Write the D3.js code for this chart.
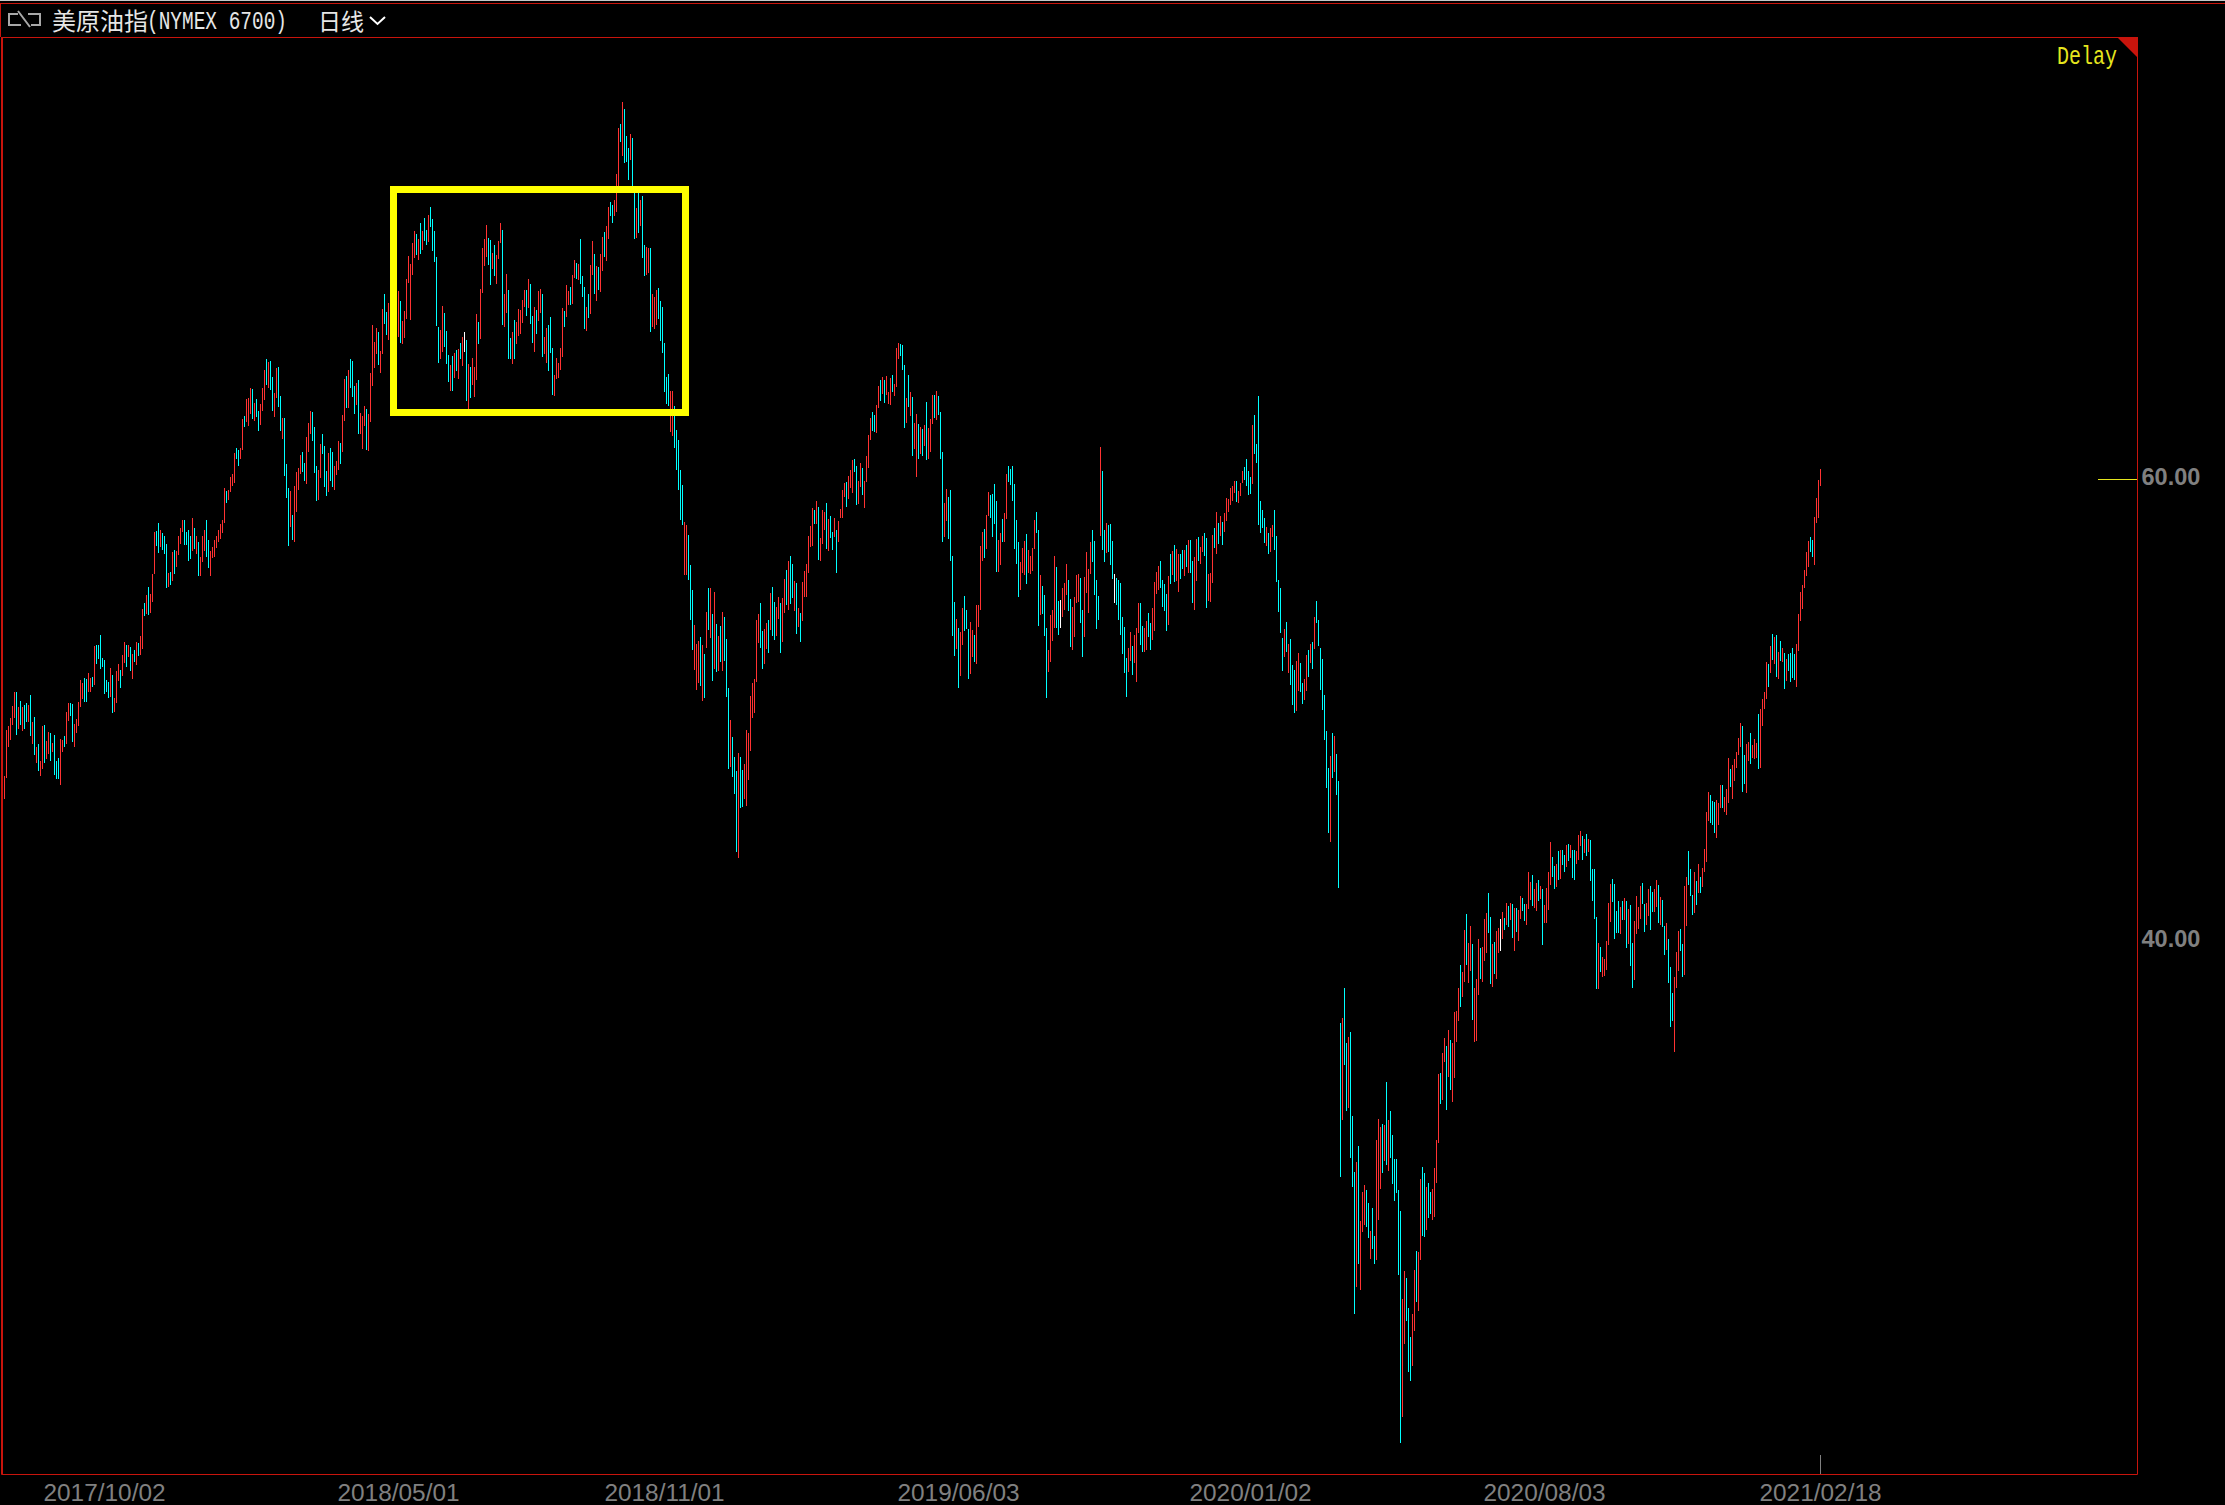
<!DOCTYPE html>
<html>
<head>
<meta charset="utf-8">
<title>美原油指</title>
<script src="https://cdn.jsdelivr.net/npm/d3@7"></script>
<style>
  html, body { margin: 0; padding: 0; background: #000; overflow: hidden; }
  svg { display: block; }
</style>
</head>
<body>
<div id="chart"></div>
<script>
// Daily highs, one line per 25 sessions.
const highs = [
47.09,49.09,49.26,49.61,50.13,50.74,50.74,50.09,50.35,50.09,50.17,50.26,50.17,50.61,49.43,49.65,48.35,48.48,47.74,49.26,49.30,48.61,49.00,48.96,48.52,
48.87,47.74,47.87,48.70,48.65,48.83,49.87,50.26,50.26,50.22,49.35,49.57,50.30,51.26,51.13,51.35,51.30,51.57,51.35,51.39,52.74,52.78,52.78,53.22,52.22,
52.13,51.26,51.17,51.78,51.48,50.48,51.65,51.96,51.70,52.35,52.91,52.78,52.78,52.70,52.39,52.57,52.91,52.87,53.17,54.35,54.61,54.96,55.30,55.00,55.87,
57.70,57.74,58.09,57.78,57.65,57.52,57.17,55.91,55.96,56.83,56.91,56.87,57.52,57.87,58.22,58.22,57.70,57.78,57.52,58.30,57.87,57.52,57.26,56.61,57.52,
57.78,58.22,57.35,56.87,57.04,57.35,57.52,57.78,58.04,58.22,59.61,59.48,59.52,60.09,60.22,61.13,61.35,61.26,61.35,62.61,62.74,63.48,63.52,63.96,63.91,
63.30,63.48,62.96,63.26,63.96,64.74,65.22,65.09,65.13,64.43,63.74,64.83,64.87,63.61,62.65,62.65,60.65,59.61,59.48,58.43,59.70,60.30,60.48,61.04,61.17,
60.70,61.83,62.43,62.96,62.91,62.26,60.57,60.39,61.52,61.96,61.43,60.35,61.13,61.35,61.17,60.57,60.78,61.65,61.57,62.78,64.35,64.48,64.74,65.22,65.13,
64.04,64.17,64.30,62.87,62.74,63.17,63.04,62.83,64.61,66.70,65.96,66.57,66.39,65.57,67.39,68.04,67.26,67.65,67.78,68.22,68.43,68.22,68.17,67.74,66.87,
67.30,68.70,69.70,69.35,70.26,70.78,70.65,70.43,71.13,70.78,71.35,70.83,71.48,71.83,71.30,70.78,69.65,66.61,66.48,67.52,67.22,66.43,65.39,64.96,65.35,
65.48,65.61,65.65,65.91,66.17,66.39,66.04,65.00,64.87,65.26,64.87,67.17,66.83,68.26,70.04,70.43,71.04,70.48,70.39,69.83,70.17,69.74,70.35,71.13,70.83,
68.04,68.91,68.22,66.13,66.39,66.91,66.83,67.39,67.35,67.78,68.22,68.22,68.70,68.48,67.09,67.48,67.35,68.17,68.26,68.04,66.17,66.57,66.70,67.04,65.70,
64.52,65.26,65.04,65.70,67.43,67.30,68.43,68.17,68.35,68.87,69.52,69.39,69.35,70.43,68.83,68.35,67.48,68.04,69.30,70.35,69.78,69.26,69.22,69.78,70.52,
70.74,71.00,71.83,72.04,71.91,72.13,73.26,75.26,75.43,76.39,76.09,74.91,74.39,75.00,74.83,72.61,71.78,72.65,72.13,72.30,70.17,70.09,70.04,70.04,68.04,
67.91,68.22,68.30,67.74,67.48,65.91,64.43,64.57,63.83,63.83,63.17,62.13,61.70,60.39,59.74,58.13,58.00,57.57,56.26,55.17,53.65,52.83,52.96,53.13,52.78,
52.40,54.23,55.28,55.28,54.13,55.10,53.70,53.18,53.62,54.23,54.00,53.05,50.92,49.52,48.79,47.91,47.31,48.09,47.91,47.34,47.61,49.09,48.94,50.57,51.14,
51.30,53.87,54.13,54.62,53.40,53.50,53.75,53.87,55.05,55.31,54.67,54.42,54.88,54.62,54.83,55.66,56.05,56.45,56.66,56.31,55.56,55.48,54.40,54.18,55.53,
56.01,56.31,57.53,57.96,58.74,58.66,59.04,58.79,57.44,58.66,58.58,58.96,58.26,58.39,57.69,58.31,57.79,58.18,58.71,59.52,59.82,59.87,60.14,60.39,60.84,
60.87,60.57,59.92,60.71,60.49,59.92,61.01,61.92,62.65,62.92,62.79,63.22,64.05,64.32,64.45,64.32,64.48,63.78,64.40,64.53,64.13,65.70,65.91,65.88,65.83,
64.97,63.53,64.53,63.78,63.57,62.44,62.84,62.40,62.27,62.19,62.35,63.35,62.22,62.62,63.65,63.65,63.82,63.62,62.92,61.19,58.96,59.57,59.23,59.52,56.66,
54.67,53.92,53.53,53.35,54.40,54.92,54.32,53.48,53.78,53.43,53.23,54.53,54.53,57.10,57.69,57.83,58.44,59.44,59.31,59.36,59.79,59.04,57.36,57.66,58.26,
58.52,60.22,60.57,60.43,60.57,59.78,58.22,57.26,56.39,57.00,57.30,57.61,56.91,56.65,57.00,58.22,58.57,57.78,55.83,55.35,54.96,53.52,52.57,54.09,54.30,
56.65,56.17,54.70,54.74,55.26,55.48,56.30,55.61,54.78,54.43,54.87,55.83,55.87,55.70,54.30,55.74,56.83,56.09,57.26,57.78,57.30,55.61,54.91,61.39,60.35,
57.78,58.09,58.00,58.04,57.30,55.87,55.70,55.61,55.48,54.00,53.57,52.22,52.65,53.35,52.74,53.22,53.52,54.61,54.61,53.61,53.52,53.83,54.17,53.74,54.39,
55.52,55.96,56.22,56.43,55.61,55.43,55.00,55.78,56.74,56.87,57.13,56.96,56.74,56.74,56.91,56.91,57.13,57.35,57.35,56.43,56.61,57.39,57.48,57.04,57.52,
57.65,57.43,55.87,55.91,57.57,57.87,58.57,58.09,58.39,58.13,58.52,59.17,59.13,59.61,59.70,59.91,59.91,59.48,59.83,60.35,60.52,60.87,60.35,60.09,62.35,
62.78,61.52,63.61,59.04,58.65,58.30,57.91,57.65,57.87,58.00,58.65,57.52,55.61,55.26,53.09,53.48,53.78,52.83,53.04,51.91,51.70,52.09,52.43,52.00,51.13,
51.30,52.35,52.57,52.83,52.91,54.00,54.70,53.87,52.65,52.17,50.61,49.04,47.43,47.96,48.96,48.83,48.04,46.87,36.35,36.57,37.87,35.48,35.74,35.96,32.30,
29.87,30.30,31.00,27.74,29.00,29.30,29.09,28.52,27.30,28.30,27.09,31.26,32.17,31.83,31.96,31.91,33.78,32.13,32.52,31.48,30.43,30.43,29.09,28.17,24.35,
25.57,25.26,23.96,22.70,23.70,25.61,26.43,26.39,29.57,30.09,29.83,29.22,29.39,29.00,29.13,30.04,31.26,34.13,34.17,35.04,35.70,35.35,36.04,35.61,35.48,
36.83,36.87,37.87,38.87,38.57,40.39,41.09,39.83,40.57,39.78,37.87,38.26,40.00,39.61,39.65,40.87,41.13,42.00,40.96,39.78,39.87,40.35,40.48,40.87,41.17,
40.91,41.57,41.43,41.57,41.52,41.35,41.35,41.26,41.87,41.78,41.52,41.52,42.91,42.48,42.78,42.17,42.43,42.57,42.30,42.17,41.48,42.22,42.91,44.22,43.57,
43.17,43.26,43.83,43.87,43.87,43.65,44.09,44.13,44.09,43.87,43.87,43.83,44.52,44.70,44.48,44.35,44.57,44.35,44.30,43.04,43.04,40.96,39.83,39.65,39.22,
39.13,39.91,41.57,42.39,42.61,42.39,41.22,41.65,41.39,41.65,41.78,41.65,41.30,41.48,39.83,40.78,41.87,41.39,42.30,42.43,41.52,41.57,42.17,42.30,42.04,
42.17,42.57,42.35,41.83,41.70,40.57,40.70,40.00,38.78,37.65,38.35,39.43,40.35,40.43,39.78,42.30,42.70,43.83,43.04,41.91,42.91,42.52,43.26,42.70,43.09,
43.91,45.52,46.39,46.26,46.00,45.96,46.04,45.91,46.70,46.70,46.17,46.52,47.87,47.39,47.57,47.83,48.13,48.74,49.39,49.26,48.00,48.48,48.57,48.96,48.43,
48.70,48.52,49.78,50.00,50.43,50.74,52.04,51.96,52.74,53.26,53.13,53.22,52.48,52.96,52.65,52.43,52.17,52.39,52.43,52.65,52.39,52.83,54.13,55.09,55.39,
56.04,56.83,57.30,57.48,57.35,58.35,59.17,59.96,60.43
];

// Daily lows, same order.
const lows = [
46.09,47.00,48.35,48.65,49.30,49.61,48.87,49.13,49.30,49.04,49.13,49.43,49.43,48.83,48.48,48.00,47.65,47.30,47.09,47.39,47.65,47.83,48.04,47.74,48.13,
47.13,46.96,46.96,46.70,48.13,48.35,48.48,49.48,49.70,48.57,48.35,48.96,49.26,50.09,50.43,50.30,50.30,50.74,50.74,50.96,51.04,51.96,52.17,51.74,51.83,
50.65,50.74,50.48,50.52,49.83,49.87,50.26,51.22,50.91,51.43,52.00,51.83,52.26,51.65,51.30,52.04,51.91,52.30,52.35,52.61,54.04,54.13,54.09,54.17,54.65,
55.87,57.09,56.78,57.04,56.91,56.74,55.26,55.30,55.39,55.57,55.87,56.17,56.70,57.17,57.70,57.13,57.13,56.43,56.52,56.87,56.96,56.74,55.78,55.78,56.39,
56.87,56.61,56.13,55.78,56.57,56.61,57.00,57.26,57.39,57.65,58.09,58.96,59.09,59.43,59.70,59.83,60.87,60.57,60.87,61.26,62.26,62.48,62.30,62.83,62.61,
62.52,62.70,62.09,62.35,62.96,63.43,64.09,63.96,63.87,62.96,62.70,63.52,63.13,62.09,61.74,60.13,59.17,57.09,57.91,57.35,57.26,58.57,59.52,60.22,60.30,
59.91,59.78,61.17,61.96,61.65,60.26,59.04,59.09,60.04,61.09,59.65,59.26,59.43,59.91,59.65,59.52,60.17,60.39,60.65,61.17,62.52,63.09,63.09,63.96,63.57,
62.83,63.22,61.96,61.96,61.30,62.30,61.26,61.22,62.48,64.04,64.83,65.43,64.96,64.61,65.43,66.74,66.26,66.04,66.26,66.91,66.70,66.48,66.17,65.91,65.87,
66.13,66.96,68.52,66.91,68.87,69.61,69.74,69.52,69.78,69.96,70.35,70.17,70.30,70.96,69.91,69.43,66.65,65.04,65.22,65.52,65.74,65.00,64.22,63.83,63.83,
64.39,64.70,64.35,65.22,64.91,65.52,63.39,62.91,63.52,64.09,63.57,64.30,65.87,66.09,68.09,69.26,69.65,69.30,68.43,69.13,68.83,68.48,69.57,70.26,66.70,
66.61,67.22,65.22,65.22,65.00,65.22,65.87,66.22,66.30,66.78,67.48,67.09,67.43,66.74,65.91,65.52,66.30,66.87,67.22,65.30,65.43,65.04,64.70,65.48,63.65,
63.61,64.35,64.39,64.74,65.30,66.61,67.04,67.57,67.57,67.61,68.74,68.70,68.65,68.48,67.91,66.52,66.43,67.00,67.17,68.87,68.04,67.74,68.22,68.13,69.04,
69.65,69.48,70.43,71.43,71.13,71.43,71.61,72.57,74.65,74.04,73.74,73.78,73.00,73.87,72.65,70.43,70.48,70.70,71.00,69.61,68.83,68.87,68.96,66.39,66.61,
66.52,66.70,66.96,66.00,65.48,63.78,63.26,63.17,62.04,61.87,61.35,60.39,59.52,58.22,58.00,55.83,55.83,55.61,53.87,52.57,51.70,50.83,51.13,51.00,50.35,
50.49,52.64,53.43,53.08,51.22,51.74,51.59,51.64,52.04,51.64,52.09,50.52,47.39,47.48,47.04,46.31,43.78,43.52,45.70,45.75,46.10,45.78,46.91,48.18,49.61,
49.84,51.19,52.87,52.65,51.74,51.95,52.60,52.44,53.43,53.18,53.00,53.18,53.93,52.44,52.92,54.18,54.53,54.32,54.55,54.83,54.25,53.27,53.57,52.92,53.83,
54.88,54.88,55.91,57.05,57.10,58.04,58.04,56.48,56.45,57.18,57.79,56.96,56.88,57.44,56.91,57.49,55.91,57.26,58.31,58.31,59.23,58.79,59.14,59.61,59.39,
60.31,58.88,58.93,59.66,59.29,58.74,59.89,60.49,61.70,62.10,62.05,62.00,63.09,63.40,63.70,63.32,63.65,63.25,63.22,63.78,63.62,64.00,65.23,65.35,64.75,
62.22,62.44,63.14,62.75,61.01,61.31,60.09,60.87,61.07,61.01,61.44,60.84,60.87,61.19,62.40,62.65,62.57,62.77,60.87,57.26,57.48,58.18,57.39,56.45,53.18,
52.30,52.62,50.92,51.44,52.79,53.40,53.48,51.30,51.52,52.27,52.05,51.95,53.57,54.32,56.45,56.56,56.96,58.39,58.31,57.48,58.04,55.96,55.96,56.26,57.26,
57.26,58.26,59.87,59.74,59.04,56.96,56.30,54.87,55.17,55.91,55.83,55.43,55.91,55.87,56.00,56.96,57.65,53.61,54.09,54.13,53.17,50.48,51.61,52.04,52.96,
53.52,53.52,53.22,53.52,54.00,54.30,54.96,54.26,52.70,52.57,53.13,54.61,54.65,53.74,52.26,53.13,55.04,54.17,55.87,56.39,54.96,53.48,53.87,57.52,56.91,
56.39,56.78,56.83,56.26,55.65,54.61,54.52,53.87,53.22,52.39,51.57,50.52,51.61,52.09,51.48,52.00,51.17,53.30,52.78,52.48,52.48,52.57,53.13,52.57,53.00,
53.39,55.00,55.17,55.26,54.43,54.26,53.39,53.65,55.43,55.83,55.52,55.57,55.09,55.65,56.09,55.78,56.17,55.91,55.91,54.61,54.30,55.57,56.43,56.30,56.83,
56.65,54.39,54.70,54.65,55.48,57.00,56.74,57.17,57.52,57.13,57.70,58.17,58.57,58.87,59.04,59.39,59.00,58.96,59.26,59.83,59.96,59.70,59.30,59.35,59.78,
61.09,60.70,58.00,57.65,57.87,57.22,57.09,56.74,56.83,57.48,56.91,55.52,54.22,53.30,51.65,52.26,52.48,51.57,51.04,50.17,49.83,49.91,50.78,50.74,50.22,
50.39,50.78,51.39,52.00,51.74,52.61,53.74,52.74,50.83,49.96,48.65,46.57,44.61,44.22,47.00,47.26,46.26,42.22,29.65,32.13,34.52,32.52,32.65,30.48,29.22,
23.70,24.87,25.87,24.74,27.26,27.57,27.48,27.00,26.09,26.52,25.87,26.04,27.78,29.13,29.83,30.35,30.17,29.91,30.48,29.35,28.61,28.96,25.39,18.09,19.22,
22.39,23.39,21.17,20.78,21.43,22.96,24.22,23.83,26.04,27.09,27.04,27.35,27.87,28.04,27.78,27.91,29.39,31.13,32.83,33.00,34.65,32.57,34.00,33.43,32.91,
33.96,35.52,36.43,37.04,37.48,38.13,38.87,38.09,38.61,36.48,35.52,35.57,37.57,38.26,38.13,39.04,39.39,40.26,38.04,37.91,38.48,38.26,39.39,39.48,40.00,
40.39,40.61,40.52,40.83,40.04,39.48,40.30,39.91,40.87,41.22,40.78,40.61,41.30,41.70,41.43,41.35,41.22,41.65,41.74,39.74,40.70,40.70,41.26,42.35,42.70,
42.17,42.26,42.57,42.61,43.22,42.91,43.13,43.39,43.52,42.65,42.57,43.26,43.43,44.04,43.43,43.74,43.61,43.78,42.52,41.65,40.87,37.83,37.83,38.57,38.35,
38.39,38.65,39.74,40.74,41.61,40.00,40.26,40.26,40.22,40.83,40.83,39.61,39.78,38.83,37.87,38.22,40.22,40.43,40.87,41.52,40.30,40.61,41.00,40.39,41.17,
41.17,41.39,40.70,40.61,40.52,39.30,39.52,38.09,36.17,36.43,35.09,37.87,38.61,39.48,38.35,38.43,40.57,42.35,41.87,41.04,41.13,41.48,42.00,42.00,42.26,
42.91,43.35,45.13,45.04,44.96,44.61,44.39,44.96,45.70,45.70,45.52,45.39,45.91,46.61,46.09,46.87,47.43,48.00,48.35,46.39,46.74,46.35,47.74,47.61,47.87,
47.83,47.87,47.39,47.43,49.26,50.00,50.43,50.96,51.57,52.13,51.96,51.39,51.30,52.09,52.04,50.87,51.22,51.65,51.17,51.35,51.26,50.96,52.52,53.83,54.35,
55.26,55.78,56.17,56.83,56.61,56.26,58.09,58.30,59.70
];

// R = closed up, C = closed down, W = closed flat.
const directions = [
'RRRRRRCRCRCCRCRCRCRRCRRCR',
'CCCRRCRRCCRRRRRCCRRCRCCCC',
'CCCRCRRRCRRCRCRCRCRRCRCRR',
'RCCRCCCRCRCRRRRCCCCRCRCRR',
'RCCRRRRRRRRCRRRRCCRRCRRRC',
'RCCRRRCRCCRRCCRCCCRCRRRRC',
'CRRRCCCRRCCCRCCRRRCRRCRCC',
'CRCRRRCRRRRRCRRCCRRRCRRCR',
'RRRRRRCRCRCCRCCCCCRRCCCRC',
'RCRCRWCRCRRRCRRRRCCRCRRRC',
'RRCCRCRRRRRCRCCRCRRCRRCCC',
'RRRRRCRRCRRCRCCCRCRRCRCRR',
'CRRCCRRRCRCCCRCCRCRCCRRCR',
'RRCCCCCCRRCCCCCRRCCCRRRCR',
'CRCRCRCRCRCCCRCCCRCCRRRRR',
'RRRCCRRCRCCRRCRRCRCCRCRCR',
'RRRRRCRCRRRCRCCRCRRRRCRRR',
'CCRRCRRRRCCRRCRCRRRCRRRCC',
'CRCRCRRCRCRCRRRCRCCCRRCCC',
'CRCRRCCCRRCRRRRCRRCCCCRRC',
'RRCCCCCCRRRCRRRRCCRCCCRRR',
'RCCWRRRCCRRRRCCRRRRCCCCRC',
'CRCCCWCCCCCCRRCRRRCCRRCCR',
'RRRCCCCRCRCRRCCRCRCCRRCRR',
'CCRRRCRCRCRRRRRRCRRRCCCCR',
'CCCCCCRCRRCCCCCRCRCCCRRCC',
'RRCRCRCCCCCCCRCRCCCRCCRCC',
'CRCRRRCCRCCRRRCRCRCCCCCCR',
'RCCCRRCRRCCRCCRRRRCRRCRCR',
'RRRCRRCRRCRRRCRRRCCRCRRWR',
'CRCRCRCRRCCRRRCRRCRCRRRRC',
'CRCRCCRCRCCRRRCRCRCCCCRCR',
'RRRRCCCCRCRCRCCRRRRCCRRCC',
'RRCRCCRCCCRRRCCRRCCCRCRCR',
'RRRCCCRRRCRRRCRRRRRCCRRCR',
'RRCRRRRCRCRCRCRCRCCCCRRRR',
'RRRCCRRRR'
].join('').split('');

// Tick labels and the sessions they sit on.
const dateLabels = ['2017/10/02', '2018/05/01', '2018/11/01', '2019/06/03', '2020/01/02', '2020/08/03', '2021/02/18'];
const dateSessions = [50, 197, 330, 477, 623, 770, 908];
const priceTicks = [60, 40];

const WIDTH = 2225;
const HEIGHT = 1505;
const FRAME = { left: 1.5, top: 37, right: 2137, bottom: 1474 };
const RED_LINE = '#c8140c';
const GREY = '#808080';
const BAR_COLOR = { R: '#ff3232', C: '#00ffff', W: '#ffffff' };

const x = d3.scaleLinear().domain([0, 908]).range([4, 1820]);
const y = d3.scaleLinear().domain([60, 40]).range([479, 939]);

const svg = d3.select('#chart')
  .append('svg')
  .attr('width', WIDTH)
  .attr('height', HEIGHT)
  .style('background', '#000');

// window chrome along the top
svg.append('rect').attr('x', 0).attr('y', 0).attr('width', WIDTH).attr('height', 1).attr('fill', '#c8c8c8');
svg.append('rect').attr('x', 0).attr('y', 3).attr('width', WIDTH).attr('height', 1).attr('fill', RED_LINE);
svg.append('rect').attr('x', 0).attr('y', 3).attr('width', 1).attr('height', 34).attr('fill', RED_LINE);

// frame
svg.append('path')
  .attr('d', `M${FRAME.left},${FRAME.bottom + 0.5}V${FRAME.top + 0.5}H${FRAME.right + 0.5}V${FRAME.bottom + 0.5}Z`)
  .attr('fill', 'none')
  .attr('stroke', RED_LINE)
  .attr('stroke-width', 1);
svg.append('rect').attr('x', 1).attr('y', FRAME.top).attr('width', 2).attr('height', FRAME.bottom - FRAME.top).attr('fill', RED_LINE);
svg.append('path')
  .attr('d', `M2117,${FRAME.top}H2138V58Z`)
  .attr('fill', RED_LINE);

// header
svg.append('path')
  .attr('d', 'M18,14H9V25H21M18,11L30,27M28,14H40V25H31')
  .attr('fill', 'none')
  .attr('stroke', '#a8a8a8')
  .attr('stroke-width', 2);
const header = svg.append('g').attr('fill', '#e6e6e6');
header.append('text')
  .attr('x', 52).attr('y', 30)
  .attr('font-family', '"Noto Sans CJK SC"')
  .attr('font-size', 24)
  .text('美原油指');
header.append('text')
  .attr('x', 147).attr('y', 29)
  .attr('font-family', '"Liberation Mono"')
  .attr('font-size', 25)
  .attr('textLength', 140)
  .attr('lengthAdjust', 'spacingAndGlyphs')
  .text('(NYMEX 6700)');
header.append('text')
  .attr('x', 318).attr('y', 30)
  .attr('font-family', '"Noto Sans CJK SC"')
  .attr('font-size', 23)
  .text('日线');
svg.append('path')
  .attr('d', 'M370,17L377.5,24L385,17')
  .attr('fill', 'none')
  .attr('stroke', '#ffffff')
  .attr('stroke-width', 2);

svg.append('text')
  .attr('x', 2057).attr('y', 64)
  .attr('fill', '#e6e61e')
  .attr('font-family', '"Liberation Mono"')
  .attr('font-size', 25)
  .attr('textLength', 60)
  .attr('lengthAdjust', 'spacingAndGlyphs')
  .text('Delay');

// one thin bar per session
svg.append('g')
  .attr('shape-rendering', 'crispEdges')
  .selectAll('rect')
  .data(d3.range(highs.length))
  .join('rect')
  .attr('x', i => x(i))
  .attr('y', i => y(highs[i]))
  .attr('width', 1)
  .attr('height', i => y(lows[i]) - y(highs[i]))
  .attr('fill', i => BAR_COLOR[directions[i]]);

// price axis
const priceAxis = svg.append('g')
  .attr('transform', `translate(${FRAME.right},0)`)
  .call(d3.axisRight(y).tickValues(priceTicks).tickFormat(d3.format('.2f')).tickSize(0));
priceAxis.select('.domain').remove();
priceAxis.selectAll('text')
  .attr('x', 4.5)
  .attr('dy', d => d === 40 ? '0.3em' : '0.22em')
  .attr('fill', GREY)
  .attr('font-family', '"Liberation Sans"')
  .attr('font-weight', 'bold')
  .attr('font-size', 23.5);
svg.append('line')
  .attr('x1', 2098).attr('x2', FRAME.right)
  .attr('y1', y(60) + 0.5).attr('y2', y(60) + 0.5)
  .attr('stroke', '#e6e61e');

// date axis
const dateAxis = svg.append('g')
  .attr('transform', `translate(0,${FRAME.bottom})`)
  .call(d3.axisBottom(x)
    .tickValues(dateSessions)
    .tickFormat((d, i) => dateLabels[i])
    .tickSize(0));
dateAxis.select('.domain').remove();
dateAxis.selectAll('text')
  .attr('y', 10)
  .attr('dy', '0.71em')
  .attr('fill', GREY)
  .attr('font-family', '"Liberation Sans"')
  .attr('font-size', 24.4);
svg.append('line')
  .attr('x1', x(908) + 0.5).attr('x2', x(908) + 0.5)
  .attr('y1', 1455).attr('y2', FRAME.bottom)
  .attr('stroke', GREY);

// the yellow box goes on top of the bars
svg.append('rect')
  .attr('x', 393.5).attr('y', 189.5)
  .attr('width', 292).attr('height', 223)
  .attr('fill', 'none')
  .attr('stroke', '#ffff00')
  .attr('stroke-width', 7);

if (highs.length !== lows.length || highs.length !== directions.length) {
  throw new Error(`length mismatch ${highs.length} ${lows.length} ${directions.length}`);
}
</script>
</body>
</html>
